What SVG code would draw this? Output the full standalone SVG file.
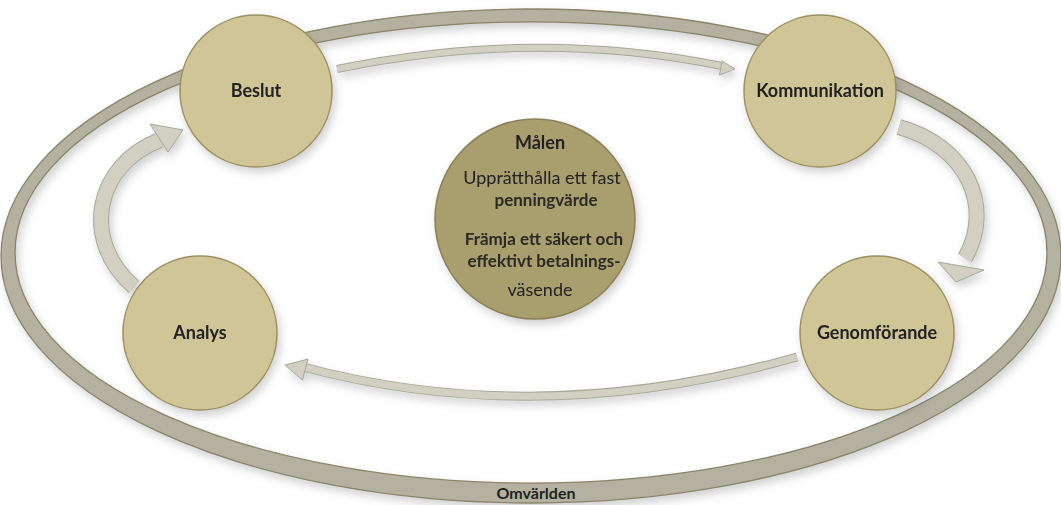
<svg xmlns="http://www.w3.org/2000/svg" width="1061" height="505" viewBox="0 0 1061 505">
<defs>
<filter id="sh" x="-20%" y="-20%" width="140%" height="140%">
<feDropShadow dx="3" dy="5" stdDeviation="4" flood-color="#6a6a6a" flood-opacity="0.3"/>
</filter>
<style>
.node{fill:#d0c596;stroke:#9c9060;stroke-width:1.5}
.goal{fill:#a89e6e;stroke:#8a8058;stroke-width:1.5}
.lbl{font-family:Lato,"Open Sans","Liberation Sans",sans-serif;font-weight:bold;font-size:18px;fill:#222;text-anchor:middle}
.gt{font-family:Lato,"Open Sans","Liberation Sans",sans-serif;font-size:18px;fill:#222;text-anchor:middle}
.gb{font-family:Lato,"Open Sans","Liberation Sans",sans-serif;font-size:17px;font-weight:bold;fill:#2a2a22;text-anchor:middle}
.ring{fill:#b4b1a1;stroke:#8a8468;stroke-width:1.3;fill-rule:evenodd}
.ao{fill:none;stroke:#a9a798}
.ai{fill:none;stroke:#d2d0c3}
.ah{fill:#d2d0c3;stroke:#a9a798;stroke-width:1;stroke-linejoin:miter}
</style>
</defs>
<rect width="1061" height="505" fill="#ffffff"/>
<g id="ring" filter="url(#sh)">
<path class="ring" d="M1,256 A530,247 0 1,0 1061,256 A530,247 0 1,0 1,256 Z M15,252.5 A516,230.5 0 1,0 1047,252.5 A516,230.5 0 1,0 15,252.5 Z"/>
</g>
<g id="connectors" filter="url(#sh)">
<g id="c-beslut-komm">
<path class="ao" stroke-width="8" d="M337,69 Q535,28 722,66"/>
<path class="ai" stroke-width="6" d="M337,69 Q535,28 722,66"/>
<polygon class="ah" points="735,69 719.5,75 722,61"/>
</g>
<g id="c-komm-genom">
<path class="ao" stroke-width="16" d="M899,127 C965,145 995,205 965,258"/>
<path class="ai" stroke-width="14" d="M899,127 C965,145 995,205 965,258"/>
<polygon class="ah" points="938,262 984,270 956,282"/>
</g>
<g id="c-genom-analys">
<path class="ao" stroke-width="9" d="M797,357 Q540,430 303,367"/>
<path class="ai" stroke-width="7" d="M797,357 Q540,430 303,367"/>
<polygon class="ah" points="285,365 308,359 302.5,380"/>
</g>
<g id="c-analys-beslut">
<path class="ao" stroke-width="16" d="M134,287 C80,240 95,165 160,140"/>
<path class="ai" stroke-width="14" d="M134,287 C80,240 95,165 160,140"/>
<polygon class="ah" points="183,130 168,152 150,124"/>
</g>
</g>
<g id="beslut" filter="url(#sh)">
<circle class="node" cx="256" cy="91" r="76"/>
<text class="lbl" x="256" y="97">Beslut</text>
</g>
<g id="kommunikation" filter="url(#sh)">
<circle class="node" cx="820" cy="91" r="76"/>
<text class="lbl" x="820" y="97">Kommunikation</text>
</g>
<g id="analys" filter="url(#sh)">
<circle class="node" cx="200" cy="333" r="77"/>
<text class="lbl" x="200" y="339">Analys</text>
</g>
<g id="genomforande" filter="url(#sh)">
<circle class="node" cx="877" cy="333" r="77"/>
<text class="lbl" x="877" y="339">Genomförande</text>
</g>
<g id="malen" filter="url(#sh)">
<circle class="goal" cx="535" cy="219" r="100"/>
<text class="lbl" x="540" y="149">Målen</text>
<text class="gt" x="542" y="184">Upprätthålla ett fast</text>
<text class="gb" x="546" y="206">penningvärde</text>
<text class="gb" x="544" y="245">Främja ett säkert och</text>
<text class="gb" x="544" y="267">effektivt betalnings-</text>
<text class="gt" x="540" y="296">väsende</text>
</g>
<g id="omvarlden">
<text class="lbl" x="536" y="499" style="font-size:16px">Omvärlden</text>
</g>
</svg>
